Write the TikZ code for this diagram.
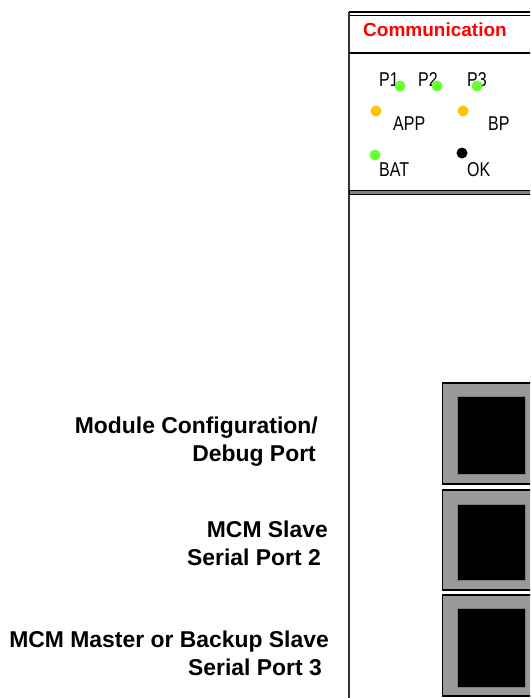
\documentclass[tikz,border=0pt]{standalone}
\usepackage{fontspec}
\setmainfont{Liberation Sans}
\newfontfamily\ledfont[FakeStretch=0.8]{Liberation Sans}
\definecolor{ledgreen}{HTML}{66FF33}
\definecolor{ledamber}{HTML}{FFC400}
\definecolor{portgray}{HTML}{999999}
\definecolor{framegray}{HTML}{333333}
\begin{document}
\begin{tikzpicture}[x=1pt, y=-1pt,
    led/.style={circle, inner sep=0pt, minimum size=11pt},
    ledtext/.style={anchor=base west, inner sep=0pt, font=\ledfont\fontsize{20}{22}\selectfont},
    portlabel/.style={anchor=base east, inner sep=0pt, align=right,
      font=\fontsize{22.9}{28}\selectfont\bfseries},
    portframe/.style={fill=portgray, draw=black, line width=1.2pt},
    portjack/.style={fill=black, draw=gray, line width=0.8pt}]
  \useasboundingbox (0,0) rectangle (530,698);
  \clip (0,0) rectangle (530,698);

  % module frame
  \draw[line width=1.4pt] (349,12) -- (540,12);
  \draw[line width=0.8pt] (349,15.6) -- (540,15.6);
  \draw[framegray, line width=1.8pt] (349,12) -- (349,700);
  \draw[line width=1.2pt] (349,53) -- (540,53);
  \filldraw[fill=gray, draw=black, line width=0.8pt] (349,190) rectangle (540,194);

  \node[anchor=base west, inner sep=0pt, text=red,
    font=\fontsize{19}{22}\selectfont\bfseries] (title) at (363,37) {Communication};

  % leds
  \draw
    (379,87) node[ledtext] (p1) {P1}
    (418,87) node[ledtext] (p2) {P2}
    (467,87) node[ledtext] (p3) {P3}
    (393,130) node[ledtext] (app) {APP}
    (488,130) node[ledtext] (bp) {BP}
    (379,176) node[ledtext] (bat) {BAT}
    (467,176) node[ledtext] (ok) {OK};
  \begin{scope}
    \node[led, fill=ledgreen] (p1led) at (400,86) {};
    \node[led, fill=ledgreen] (p2led) at (437,86) {};
    \node[led, fill=ledgreen] (p3led) at (477,86) {};
    \node[led, fill=ledamber] (appled) at (376,111) {};
    \node[led, fill=ledamber] (bpled) at (463,111) {};
    \node[led, fill=ledgreen] (batled) at (375,155) {};
    \node[led, fill=black] (okled) at (462,153) {};
  \end{scope}

  % ports
  \filldraw[portframe] (442.5,383) rectangle (540,484);
  \filldraw[portjack] (457,396) rectangle (525,474);
  \filldraw[portframe] (442.5,490) rectangle (540,590);
  \filldraw[portjack] (457,504) rectangle (525,580);
  \filldraw[portframe] (442.5,595) rectangle (540,696);
  \filldraw[portjack] (457,608) rectangle (525,687);

  \node[portlabel] (cfg) at (318,461) {Module Configuration/\\Debug Port\rule{2pt}{0pt}};
  \node[portlabel] (slave) at (328,565) {MCM Slave\\Serial Port 2\rule{7pt}{0pt}};
  \node[portlabel] (master) at (329,675) {MCM Master or Backup Slave\\Serial Port 3\rule{7pt}{0pt}};
\end{tikzpicture}
\end{document}
